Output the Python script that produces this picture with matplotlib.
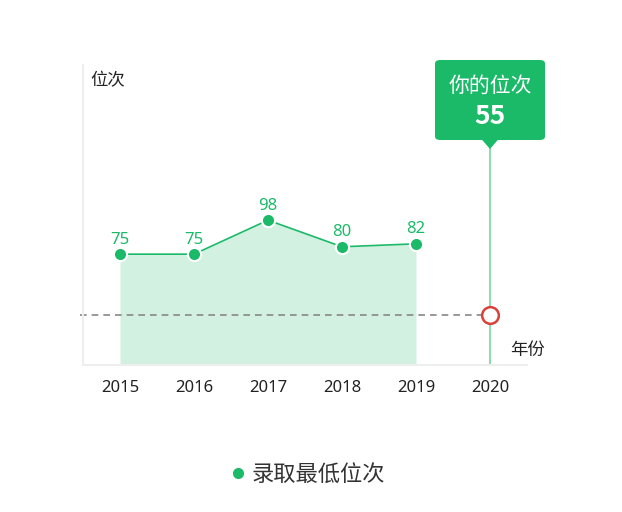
import matplotlib
matplotlib.use("Agg")
from matplotlib import pyplot as plt
from matplotlib.lines import Line2D
from matplotlib.patches import FancyBboxPatch, Polygon

plt.rcParams['font.family'] = ['Noto Sans', 'Noto Sans CJK SC', 'DejaVu Sans']

# data
years = ['2015', '2016', '2017', '2018', '2019', '2020']
min_rank = [75, 75, 98, 80, 82]
my_rank = 55
my_rank_pos = 34   # where the marker sits on the axis in the source chart

green = '#1bba69'
light_green = '#d3f1e1'
vline_green = '#8edcb1'
red = '#d9413a'

L, R, T, B = 83, 527, 65, 365
W, H = R - L, B - T
fig = plt.figure(figsize=(6.22, 5.12), dpi=100)
ax = fig.add_axes([L/622, 1-B/512, W/622, H/512])

x = list(range(len(min_rank)))
ax.fill_between(x, 0, min_rank, color=light_green, lw=0, zorder=1)
ax.plot(x, min_rank, color=green, lw=1.2, marker='o', ms=9.5,
        mfc=green, mec='white', mew=1.5, zorder=3)
for xi, v in zip(x, min_rank):
    ax.text(xi, v + 4.5, str(v), color=green, fontsize=12,
            ha='center', va='bottom', zorder=4)

idx = len(years) - 1
ax.axhline(my_rank_pos, xmin=-3/W, xmax=(idx + 0.5) / len(years),
           color='#888888', lw=1.2, ls=(0, (4, 3)), zorder=2, clip_on=False)
ax.axvline(idx, ymin=0, ymax=(B-148)/H, color=vline_green, lw=1.5, zorder=2)
ax.plot([idx], [my_rank_pos], marker='o', ms=12, mfc='white', mec=red,
        mew=1.8, zorder=5, clip_on=False)

ax.set_xlim(-0.5, len(years) - 0.5)
ax.set_ylim(0, 203)
ax.set_xticks(range(len(years)))
ax.set_xticklabels(years, fontsize=12, color='#222222')
ax.set_yticks([])
ax.tick_params(axis='x', length=0, pad=11)
for s in ['top', 'right']:
    ax.spines[s].set_visible(False)
ax.spines['left'].set_color('#eeeeee')
ax.spines['bottom'].set_color('#eeeeee')
ax.spines['left'].set_linewidth(1.5)
ax.spines['bottom'].set_linewidth(1.5)

ax.text((90-L)/W, (B-80)/H, '位次', transform=ax.transAxes, fontsize=12.5,
        color='#222222', ha='left', va='center')
ax.text((545-L)/W, (B-350)/H, '年份', transform=ax.transAxes, fontsize=12.5,
        color='#222222', ha='right', va='center', clip_on=False)

# tooltip box
bx0, bx1 = (435-L)/W, (545-L)/W
by0, by1 = (B-140)/H, (B-60)/H
box = FancyBboxPatch((bx0, by0), bx1 - bx0, by1 - by0,
                     boxstyle='round,pad=0,rounding_size=0.012',
                     transform=ax.transAxes, fc=green, ec='none',
                     clip_on=False, zorder=6)
ax.add_patch(box)
cx = (idx + 0.5) / len(years)
tri = Polygon([(cx - 8/W, by0 + 0.001), (cx + 8/W, by0 + 0.001),
               (cx, (B-149)/H)], closed=True, transform=ax.transAxes,
              fc=green, ec='none', clip_on=False, zorder=6)
ax.add_patch(tri)
ax.text(cx, (B-86)/H, '你的位次', transform=ax.transAxes, color='white',
        fontsize=15, ha='center', va='center', zorder=7)
ax.text(cx, (B-116)/H, str(my_rank), transform=ax.transAxes, color='white',
        fontsize=19, fontweight='bold', family=['Noto Sans CJK SC'],
        ha='center', va='center', zorder=7)

handle = Line2D([], [], ls='none', marker='o', ms=7, mfc=green, mec=green)
fig.legend([handle], ['录取最低位次'], loc='center',
           bbox_to_anchor=(0.5 - 6/622, 1 - 475/512), frameon=False,
           fontsize=16, labelcolor='#333333', handletextpad=0.0,
           handlelength=1.2)

fig.savefig('out.png', dpi=100)
